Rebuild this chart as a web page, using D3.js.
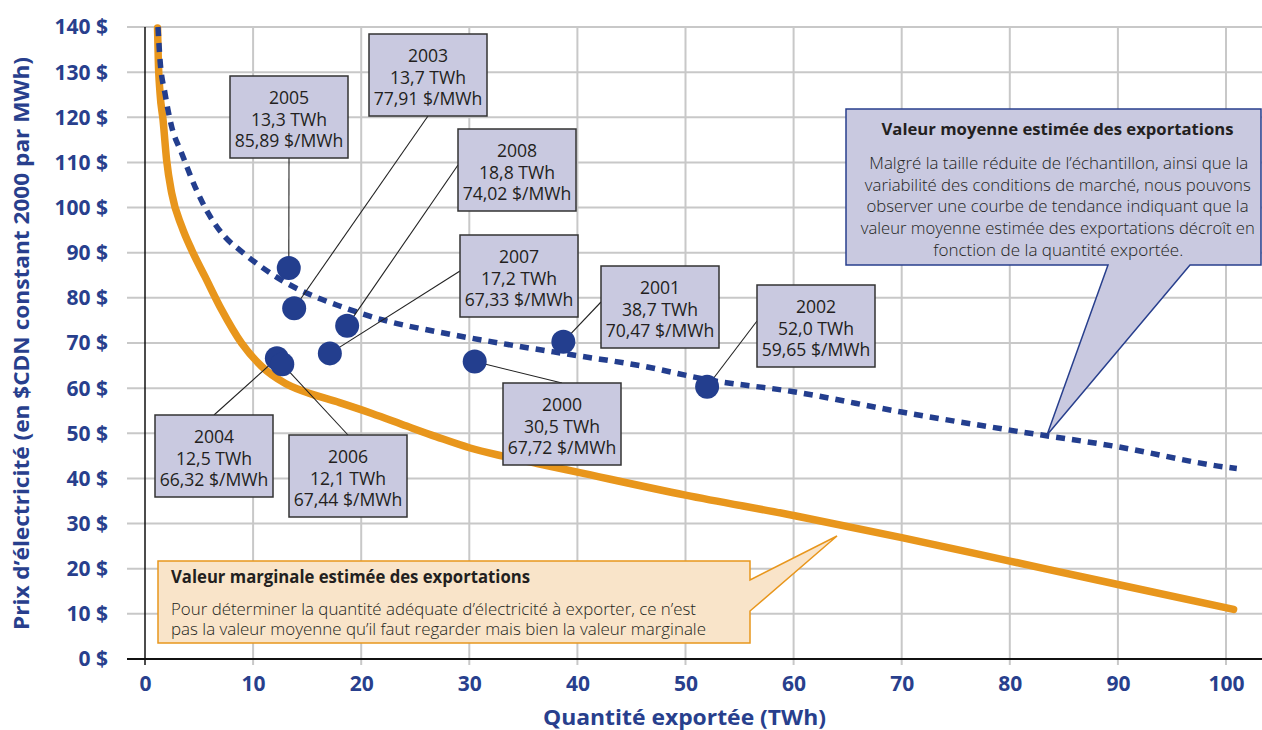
<!DOCTYPE html>
<html>
<head>
<meta charset="utf-8">
<script src="https://cdn.jsdelivr.net/npm/d3@7"></script>
<style>
  html, body { margin: 0; padding: 0; background: #ffffff; }
  svg { display: block; }
  text { font-family: "Open Sans", "Noto Sans", sans-serif; }
</style>
</head>
<body>
<svg id="chart" width="1262" height="730"></svg>
<script>
// ---------------- data ----------------
const xTicks = [0, 10, 20, 30, 40, 50, 60, 70, 80, 90, 100];
const yTicks = [0, 10, 20, 30, 40, 50, 60, 70, 80, 90, 100, 110, 120, 130, 140];

const years       = ["2000", "2001", "2002", "2003", "2004", "2005", "2006", "2007", "2008"];
const twh         = [30.5, 38.7, 52.0, 13.8, 12.2, 13.3, 12.7, 17.1, 18.7];
const price       = [65.9, 70.3, 60.3, 77.7, 66.6, 86.6, 65.3, 67.7, 73.8];
const twhLabels   = ["30,5", "38,7", "52,0", "13,7", "12,5", "13,3", "12,1", "17,2", "18,8"];
const priceLabels = ["67,72", "70,47", "59,65", "77,91", "66,32", "85,89", "67,44", "67,33", "74,02"];

// average value trend (dashed)
const avgX = [1.2, 1.39, 1.85, 2.47, 3.4, 4.63, 5.86, 7.4, 8.8, 10.8, 13, 15, 18, 22, 27, 33, 40, 46, 52, 60, 70, 80, 90, 100, 101];
const avgY = [140, 132.7, 125.3, 117.9, 112, 104.6, 98.7, 93.5, 90.5, 86.8, 83.4, 81, 78.2, 75.1, 72.5, 69.9, 67.2, 64.9, 61.9, 59.2, 54.7, 50.7, 47, 42.5, 42.2];

// marginal value curve (orange)
const margX = [1.16, 1.23, 1.39, 1.67, 2.0, 2.47, 3.4, 4.32, 5.55, 7.1, 8.95, 10.8, 12.95, 14.8, 18, 21, 24.2, 27, 30, 33, 36.5, 40, 50, 60, 70, 80, 90, 100.7];
const margY = [139.8, 132.7, 125.4, 119.4, 110.5, 103.2, 95.8, 90.6, 84.7, 77.3, 69.9, 64.8, 61.1, 59.2, 56.8, 54.4, 51.6, 49.2, 46.8, 45, 43.2, 41.4, 36.3, 31.8, 26.9, 21.7, 16.5, 11];

const xTitle = "Quantité exportée (TWh)";
const yTitle = "Prix d\u2019électricité (en $CDN constant 2000 par MWh)";

const avgTitle = "Valeur moyenne estimée des exportations";
const avgBody = [
  "Malgré la taille réduite de l\u2019échantillon, ainsi que la",
  "variabilité des conditions de marché, nous pouvons",
  "observer une courbe de tendance indiquant que la",
  "valeur moyenne estimée des exportations décroît en",
  "fonction de la quantité exportée."
];
const margTitle = "Valeur marginale estimée des exportations";
const margBody = [
  "Pour déterminer la quantité adéquate d\u2019électricité à exporter, ce n\u2019est",
  "pas la valeur moyenne qu\u2019il faut regarder mais bien la valeur marginale"
];

// ---------------- layout ----------------
const BLUE = "#283f8d";
const DOT = "#233e8e";
const ORANGE = "#e8961c";
const LAV = "#c9c9e0";
const GRID = "#c8c8c8";
const INK = "#231f20";

const svg = d3.select("#chart");
const x = d3.scaleLinear().domain([0, 100]).range([145, 1226]);
const y = d3.scaleLinear().domain([0, 140]).range([659, 27]);
const gridLeft = 127, gridRight = 1262;

// grid
const g = svg.append("g");
g.selectAll("line.h").data(yTicks).join("line")
  .attr("x1", gridLeft).attr("x2", gridRight)
  .attr("y1", d => y(d)).attr("y2", d => y(d))
  .attr("stroke", GRID).attr("stroke-width", 2);
g.selectAll("line.v").data(xTicks.filter(d => d > 0)).join("line")
  .attr("x1", d => x(d)).attr("x2", d => x(d))
  .attr("y1", y(140)).attr("y2", y(0) + 6)
  .attr("stroke", GRID).attr("stroke-width", 2);

// axis lines
svg.append("line").attr("x1", gridLeft).attr("x2", gridRight)
  .attr("y1", y(0)).attr("y2", y(0)).attr("stroke", "#111").attr("stroke-width", 2);
svg.append("line").attr("x1", x(0)).attr("x2", x(0))
  .attr("y1", y(140)).attr("y2", y(0) + 6).attr("stroke", "#111").attr("stroke-width", 1.5);

// axes labels via d3 axes
const yAxis = svg.append("g").attr("transform", `translate(${gridLeft},0)`)
  .call(d3.axisLeft(y).tickValues(yTicks).tickSize(0).tickPadding(19).tickFormat(d => d + " $"));
yAxis.select(".domain").remove();
yAxis.selectAll("text").attr("fill", BLUE).attr("font-size", 21).attr("font-weight", 700)
  .attr("font-family", "'Open Sans', sans-serif").attr("dy", "0.33em");

const xAxis = svg.append("g").attr("transform", `translate(0,${y(0)})`)
  .call(d3.axisBottom(x).tickValues(xTicks).tickSize(0).tickPadding(17).tickFormat(d3.format("d")));
xAxis.select(".domain").remove();
xAxis.selectAll("text").attr("fill", BLUE).attr("font-size", 21).attr("font-weight", 700)
  .attr("font-family", "'Open Sans', sans-serif");

// axis titles
svg.append("text").attr("x", 684.5).attr("y", 725).attr("text-anchor", "middle")
  .attr("fill", BLUE).attr("font-size", 21.5).attr("font-weight", 700)
  .attr("textLength", 283).attr("lengthAdjust", "spacingAndGlyphs").text(xTitle);
svg.append("text").attr("transform", "translate(28.5,343.5) rotate(-90)")
  .attr("text-anchor", "middle").attr("fill", BLUE).attr("font-size", 20.5).attr("font-weight", 700)
  .attr("textLength", 573).attr("lengthAdjust", "spacingAndGlyphs").text(yTitle);

// ---------- callouts ----------
// orange (marginal)
svg.append("path")
  .attr("d", "M158,561 H750 V580 L837,536 L750,611 V643 H158 Z")
  .attr("fill", "#f9e4c9").attr("stroke", ORANGE).attr("stroke-width", 1.5);
svg.append("text").attr("x", 171).attr("y", 583).attr("fill", INK)
  .attr("font-size", 17.5).attr("font-weight", 700)
  .attr("textLength", 359).attr("lengthAdjust", "spacingAndGlyphs").text(margTitle);
const margW = [525, 535];
margBody.forEach((t, i) => {
  svg.append("text").attr("x", 171).attr("y", 615 + i * 20).attr("fill", INK)
    .attr("font-size", 16.5).attr("font-weight", 300)
    .attr("textLength", margW[i]).attr("lengthAdjust", "spacingAndGlyphs").text(t);
});

// blue (average)
svg.append("path")
  .attr("d", "M846,109 H1261 V265 H1190 L1047,435 L1108,265 H846 Z")
  .attr("fill", LAV).attr("stroke", BLUE).attr("stroke-width", 1.5);
svg.append("text").attr("x", 1057.5).attr("y", 135).attr("text-anchor", "middle").attr("fill", INK)
  .attr("font-size", 16.5).attr("font-weight", 700)
  .attr("textLength", 352).attr("lengthAdjust", "spacingAndGlyphs").text(avgTitle);
const avgW = [379, 386, 382, 394, 250];
const avgC = [1058.8, 1057.8, 1057.5, 1057.8, 1058.3];
avgBody.forEach((t, i) => {
  svg.append("text").attr("x", avgC[i]).attr("y", 169 + i * 21.7).attr("text-anchor", "middle").attr("fill", INK)
    .attr("font-size", 16.3).attr("font-weight", 300)
    .attr("textLength", avgW[i]).attr("lengthAdjust", "spacingAndGlyphs").text(t);
});

// ---------- curves ----------
const line = d3.line().x(d => x(d[0])).y(d => y(d[1])).curve(d3.curveMonotoneX);
svg.append("path").datum(margX.map((v, i) => [v, margY[i]]))
  .attr("d", line).attr("fill", "none").attr("stroke", ORANGE)
  .attr("stroke-width", 7.5).attr("stroke-linecap", "round").attr("stroke-linejoin", "round");
svg.append("path").datum(avgX.map((v, i) => [v, avgY[i]]))
  .attr("d", line).attr("fill", "none").attr("stroke", DOT)
  .attr("stroke-width", 5.5).attr("stroke-dasharray", "9,7");

// ---------- data labels ----------
const boxW = 118, boxH = 82;
// box position (left, top) and leader anchor side, by year order
const boxPos = [[503, 383, "top"], [601, 266, "left"], [757, 285, "left"], [369, 34, "bottom"],
                [155, 415, "top"], [230, 76, "bottom"], [289, 435, "top"], [460, 235, "left"], [458, 129, "left"]];

const pts = years.map((yr, i) => ({ yr, x: twh[i], y: price[i], tl: twhLabels[i], pl: priceLabels[i], box: boxPos[i] }));

// leaders
svg.selectAll("line.leader").data(pts).join("line")
  .attr("x1", d => d.box[2] === "left" ? d.box[0] : d.box[0] + boxW / 2)
  .attr("y1", d => d.box[2] === "left" ? d.box[1] + boxH / 2 - 5 : (d.box[2] === "top" ? d.box[1] : d.box[1] + boxH))
  .attr("x2", d => x(d.x)).attr("y2", d => y(d.y))
  .attr("stroke", "#222").attr("stroke-width", 1.1);

// dots
svg.selectAll("circle.dot").data(pts).join("circle")
  .attr("cx", d => x(d.x)).attr("cy", d => y(d.y)).attr("r", 12).attr("fill", DOT);

// boxes
const bx = svg.selectAll("g.box").data(pts).join("g")
  .attr("transform", d => `translate(${d.box[0]},${d.box[1]})`);
bx.append("rect").attr("width", boxW).attr("height", boxH)
  .attr("fill", LAV).attr("stroke", "#333").attr("stroke-width", 1.5);
bx.each(function (d) {
  const lines = [d.yr, d.tl + " TWh", d.pl + " $/MWh"];
  lines.forEach((t, i) => {
    d3.select(this).append("text").attr("x", boxW / 2).attr("y", 28.4 + i * 21.3)
      .attr("text-anchor", "middle").attr("fill", INK).attr("font-size", 17.6).text(t);
  });
});
</script>
</body>
</html>
